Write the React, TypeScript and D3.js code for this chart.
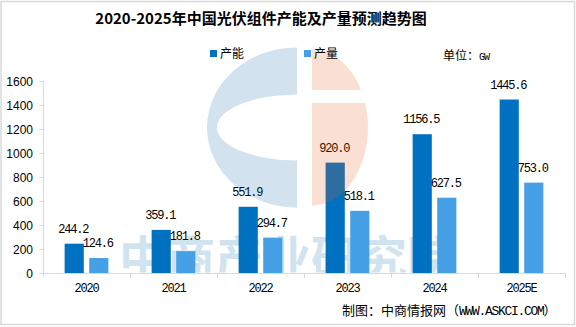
import React from "react";
import * as d3 from "d3";

const years = ["2020", "2021", "2022", "2023", "2024", "2025E"];
const seriesNames = ["产能", "产量"];
const capacity = [244.2, 359.1, 551.9, 920.0, 1156.5, 1445.6];
const production = [124.6, 181.8, 294.7, 518.1, 627.5, 753.0];
const yTicks = [0, 200, 400, 600, 800, 1000, 1200, 1400, 1600];
const colors = ["#0070c0", "#45a0e6"];

const W = 576;
const H = 327;
const CJK = "'Noto Sans CJK SC', 'Noto Sans', sans-serif";
const MONO = "'Liberation Mono', 'DejaVu Sans Mono', monospace";

export default function App() {
  const x0 = d3.scaleBand<string>().domain(years).range([43, 565]).paddingInner(0).paddingOuter(0);
  const x1 = d3
    .scaleBand<string>()
    .domain(seriesNames)
    .range([0, x0.bandwidth()])
    .paddingInner(0.22)
    .paddingOuter(0.88);
  const y = d3.scaleLinear().domain([0, 1600]).range([273, 81]);
  const series = [capacity, production];

  // watermark logo geometry
  const cxB = 297, cy = 127.5;
  const blueOuter = { rx: 90, ry: 80 };
  const blueInner = { rx: 80, ry: 33 };
  const cxP = 312, pink = { rx: 56, ry: 78 };
  const bluePath =
    `M ${cxB} ${cy - blueOuter.ry} A ${blueOuter.rx} ${blueOuter.ry} 0 0 0 ${cxB} ${cy + blueOuter.ry} ` +
    `L ${cxB} ${cy + blueInner.ry} A ${blueInner.rx} ${blueInner.ry} 0 0 1 ${cxB} ${cy - blueInner.ry} Z`;
  const pinkPath = `M ${cxP} ${cy - pink.ry} A ${pink.rx} ${pink.ry} 0 0 1 ${cxP} ${cy + pink.ry} Z`;

  return (
    <svg
      width={W}
      height={H}
      style={{ position: "absolute", left: 0, top: 0, background: "#fff" }}
    >
      <defs>
        <clipPath id="plotClip">
          <rect x={0} y={0} width={W} height={272.5} />
        </clipPath>
        <clipPath id="pinkClip">
          <rect x={0} y={0} width={W} height={90} />
          <rect x={0} y={103} width={W} height={200} />
        </clipPath>
      </defs>
      <rect x={0} y={0} width={W} height={H} fill="#fff" />
      <rect x={1} y={1.5} width={573.5} height={323} fill="none" stroke="#d9d9d9" strokeWidth={1.5} />

      {/* title */}
      <text
        x={261}
        y={24}
        textAnchor="middle"
        fontFamily={CJK}
        fontWeight={700}
        fontSize={15}
        fill="#000"
      >
        2020-2025年中国光伏组件产能及产量预测趋势图
      </text>

      {/* text watermark */}
      <g clipPath="url(#plotClip)">
        <text
          x={119}
          y={276}
          fontFamily={CJK}
          fontWeight={700}
          fontSize={48}
          fill="#d0e3ef"
        >
          中商产业研究院
        </text>
      </g>

      {/* axes */}
      <g stroke="#d9d9d9" strokeWidth={1}>
        <line x1={43.5} x2={43.5} y1={81} y2={277} />
        <line x1={39} x2={565} y1={273.5} y2={273.5} />
        {yTicks.map((t) => (
          <line key={t} x1={39} x2={43.5} y1={Math.round(y(t)) + 0.5} y2={Math.round(y(t)) + 0.5} />
        ))}
        {years.map((yr, i) => (
          <line
            key={yr}
            x1={Math.round(x0(yr)! + x0.bandwidth()) + 0.5}
            x2={Math.round(x0(yr)! + x0.bandwidth()) + 0.5}
            y1={273}
            y2={278}
          />
        ))}
      </g>
      {yTicks.map((t) => (
        <text
          key={t}
          x={33}
          y={y(t) + 4.5}
          textAnchor="end"
          fontFamily="'Liberation Sans', Arial, sans-serif"
          fontSize={12}
          fill="#000"
        >
          {t}
        </text>
      ))}
      {years.map((yr) => (
        <text
          key={yr}
          x={x0(yr)! + x0.bandwidth() / 2}
          y={292}
          textAnchor="middle"
          fontFamily={MONO}
          fontSize={12}
          letterSpacing={-1.2}
          fill="#000"
        >
          {yr}
        </text>
      ))}

      {/* bars */}
      {series.map((vals, si) =>
        vals.map((v, i) => (
          <rect
            key={`${si}-${i}`}
            x={x0(years[i])! + x1(seriesNames[si])!}
            y={y(v)}
            width={x1.bandwidth()}
            height={y(0) - y(v)}
            fill={colors[si]}
          />
        ))
      )}
      {series.map((vals, si) =>
        vals.map((v, i) => (
          <text
            key={`l${si}-${i}`}
            x={x0(years[i])! + x1(seriesNames[si])! + x1.bandwidth() / 2 - 1}
            y={y(v) - 11}
            textAnchor="middle"
            fontFamily={MONO}
            fontSize={12}
            letterSpacing={-1.2}
            fill="#000"
          >
            {v.toFixed(1)}
          </text>
        ))
      )}

      {/* logo watermark */}
      <path d={bluePath} fill="rgb(30,110,170)" fillOpacity={0.2} />
      <path d={pinkPath} fill="rgb(230,102,32)" fillOpacity={0.2} clipPath="url(#pinkClip)" />

      {/* legend */}
      {seriesNames.map((s, i) => {
        const lx = i === 0 ? 210 : 304;
        return (
          <g key={s}>
            <rect x={lx} y={50} width={7} height={7} fill={colors[i]} />
            <text x={lx + 10} y={58} fontFamily={CJK} fontSize={12} fill="#000">
              {s}
            </text>
          </g>
        );
      })}
      <text x={443} y={60} fontFamily={CJK} fontSize={12} fill="#000">
        单位：
        <tspan fontFamily={MONO} fontSize={10} letterSpacing={-1}>
          GW
        </tspan>
      </text>

      {/* footer */}
      <text x={342} y={315} fontFamily={CJK} fontSize={13} fill="#000">
        制图：中商情报网（
        <tspan fontFamily={MONO} fontSize={13} letterSpacing={-1.3}>
          WWW.ASKCI.COM
        </tspan>
        ）
      </text>
    </svg>
  );
}
